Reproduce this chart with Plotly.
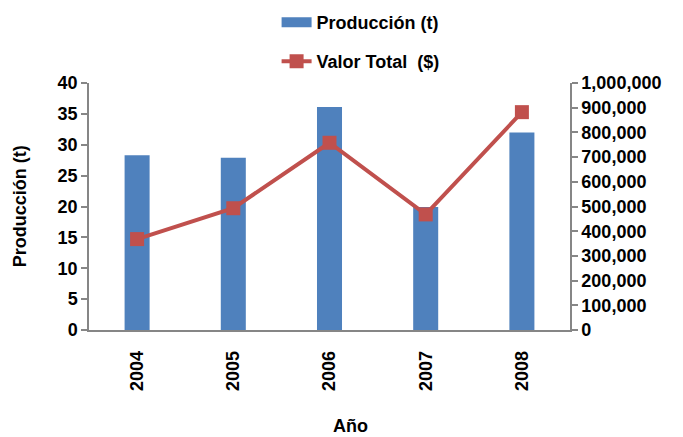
import plotly.graph_objects as go

years = ["2004", "2005", "2006", "2007", "2008"]
produccion = [28.3, 27.9, 36.1, 19.9, 32.0]
valor_total = [368000, 493000, 758000, 468000, 882000]

left_ticks = list(range(0, 45, 5))
right_ticks = list(range(0, 1100000, 100000))

font_family = "Liberation Sans, Arial, sans-serif"
axis_grey = "#868686"
bar_color = "#4F81BD"
line_color = "#C0504D"
FS = 18

fig = go.Figure()
fig.add_trace(go.Bar(
    x=years, y=produccion, name="Producción (t)",
    marker=dict(color=bar_color, line=dict(width=0)),
    width=0.26, yaxis="y", showlegend=False,
))
# legend entry drawn as a wide rectangle like the reference
fig.add_trace(go.Scatter(
    x=[None], y=[None], name="Producción (t)", mode="lines",
    line=dict(color=bar_color, width=11), yaxis="y", legend="legend",
))
fig.add_trace(go.Scatter(
    x=years, y=valor_total, name="Valor Total  ($)",
    mode="lines+markers",
    line=dict(color=line_color, width=4),
    marker=dict(symbol="square", size=14, color=line_color),
    yaxis="y2", legend="legend2",
))

bold = dict(family=font_family, size=FS, color="black", weight="bold")

fig.update_layout(
    width=683, height=437,
    margin=dict(l=81, r=121, t=75, b=115, autoexpand=False),
    paper_bgcolor="white", plot_bgcolor="white",
    font=dict(family=font_family, color="black"),
    showlegend=True,
    xaxis=dict(
        type="category", tickangle=-90, tickfont=bold,
        showline=True, linecolor=axis_grey, linewidth=1.5,
        ticks="", showgrid=False, ticklabelstandoff=12,
        range=[-0.5, 4.5],
    ),
    yaxis=dict(
        range=[0, 40], tickvals=left_ticks, tickfont=bold,
        showline=True, linecolor=axis_grey, linewidth=1.5,
        ticks="outside", ticklen=6, tickcolor=axis_grey, tickwidth=1.5,
        showgrid=False, zeroline=False,
    ),
    yaxis2=dict(
        range=[0, 1000000], tickvals=right_ticks, tickformat=",",
        tickfont=bold, overlaying="y", side="right",
        showline=True, linecolor=axis_grey, linewidth=1.5,
        ticks="outside", ticklen=6, tickcolor=axis_grey, tickwidth=1.5,
        showgrid=False, zeroline=False,
    ),
    legend=dict(
        x=0.39, y=1.32, xanchor="left", yanchor="top",
        font=bold, bgcolor="rgba(0,0,0,0)",
    ),
    legend2=dict(
        x=0.39, y=1.162, xanchor="left", yanchor="top",
        font=bold, bgcolor="rgba(0,0,0,0)",
    ),
    annotations=[
        dict(text="Año", xref="paper", yref="paper", x=0.543, y=-0.387,
             xanchor="center", yanchor="middle", showarrow=False, font=bold),
        dict(text="Producción (t)", xref="paper", yref="paper", x=-0.144, y=0.5,
             xanchor="center", yanchor="middle", textangle=-90, showarrow=False, font=bold),
    ],
)

fig.write_html("out.html")
